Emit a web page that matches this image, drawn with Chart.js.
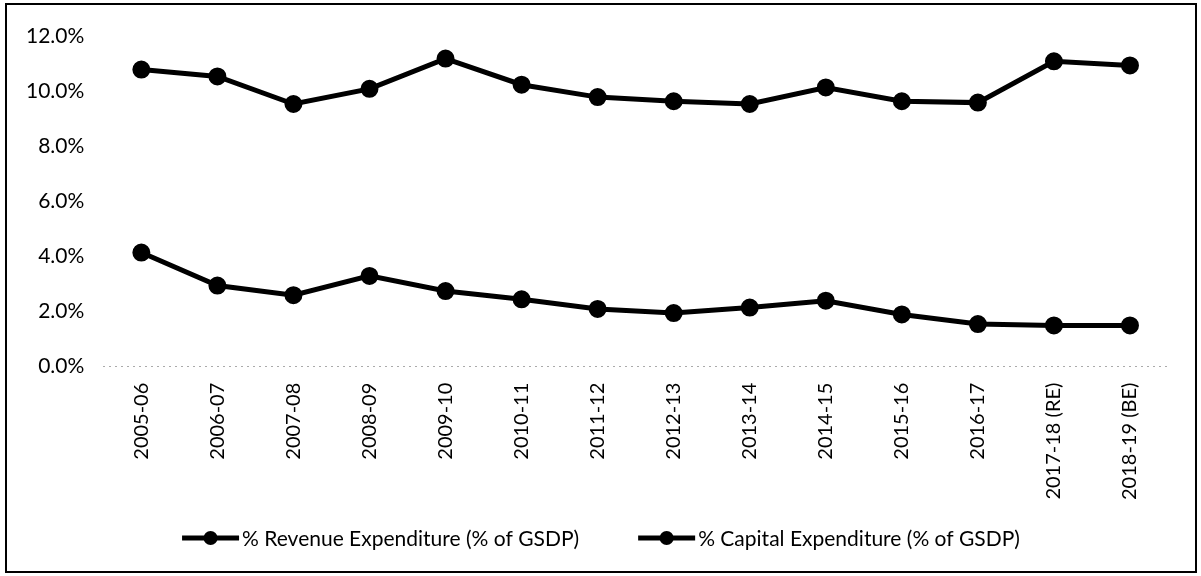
<!DOCTYPE html>
<html>
<head>
<meta charset="utf-8">
<script src="https://cdn.jsdelivr.net/npm/chart.js@4.4.1/dist/chart.umd.min.js"></script>
<style>
    body { margin: 0; background: #fff; }
    #frame {
        position: absolute;
        left: 5px; top: 3px;
        width: 1188px; height: 566px;
        border: 2px solid #000;
    }
</style>
</head>
<body>
<div id="frame"><canvas id="expChart"></canvas></div>
<script>
const years = ["2005-06", "2006-07", "2007-08", "2008-09", "2009-10", "2010-11", "2011-12",
    "2012-13", "2013-14", "2014-15", "2015-16", "2016-17", "2017-18 (RE)", "2018-19 (BE)"];
const revenueExp = [10.8, 10.55, 9.55, 10.1, 11.2, 10.25, 9.8, 9.65, 9.55, 10.15, 9.65, 9.6, 11.1, 10.95];
const capitalExp = [4.15, 2.95, 2.6, 3.3, 2.75, 2.45, 2.1, 1.95, 2.15, 2.4, 1.9, 1.55, 1.5, 1.5];
const yTicks = [0, 2, 4, 6, 8, 10, 12];

const family = "Lato, 'Open Sans', sans-serif";

// Excel style legend: line with a dot, drawn under the plot
const lineLegend = {
    id: "lineLegend",
    afterDraw(chart) {
        const ctx = chart.ctx;
        const markW = 57, gap = 3, itemGap = 59;
        ctx.save();
        ctx.font = "21px " + family;
        ctx.textBaseline = "middle";
        const items = chart.data.datasets.map(ds => ({ text: ds.label, w: ctx.measureText(ds.label).width }));
        const total = items.reduce((s, it) => s + markW + gap + it.w, 0) + itemGap * (items.length - 1);
        let x = (chart.width - total) / 2;
        const y = chart.height - 33;
        items.forEach(it => {
            ctx.strokeStyle = "#000";
            ctx.lineWidth = 5;
            ctx.beginPath();
            ctx.moveTo(x, y);
            ctx.lineTo(x + markW, y);
            ctx.stroke();
            ctx.fillStyle = "#000";
            ctx.beginPath();
            ctx.arc(x + markW / 2, y, 7, 0, Math.PI * 2);
            ctx.fill();
            ctx.fillText(it.text, x + markW + gap, y + 1);
            x += markW + gap + it.w + itemGap;
        });
        ctx.restore();
    }
};

new Chart(document.getElementById("expChart"), {
    type: "line",
    data: {
        labels: years,
        datasets: [
            {
                label: "% Revenue Expenditure (% of GSDP)",
                data: revenueExp,
                borderColor: "#000",
                backgroundColor: "#000",
                borderWidth: 5,
                pointRadius: 6.5,
                pointHoverRadius: 6.5,
                tension: 0
            },
            {
                label: "% Capital Expenditure (% of GSDP)",
                data: capitalExp,
                borderColor: "#000",
                backgroundColor: "#000",
                borderWidth: 5,
                pointRadius: 6.5,
                pointHoverRadius: 6.5,
                tension: 0
            }
        ]
    },
    options: {
        responsive: true,
        maintainAspectRatio: false,
        animation: false,
        layout: { padding: { top: 15, left: 0, right: 27, bottom: 63 } },
        scales: {
            y: {
                min: 0,
                max: 12,
                afterBuildTicks: axis => { axis.ticks = yTicks.map(v => ({ value: v })); },
                ticks: {
                    color: "#000",
                    font: { family: family, size: 21 },
                    padding: 19,
                    callback: v => v.toFixed(1) + "%"
                },
                grid: {
                    drawTicks: false,
                    color: ctx => ctx.tick && ctx.tick.value === 0 ? "#aaa" : "rgba(0,0,0,0)",
                    lineWidth: 1
                },
                border: { display: false, dash: [2, 4] }
            },
            x: {
                offset: true,
                ticks: {
                    color: "#000",
                    font: { family: family, size: 20 },
                    minRotation: 90,
                    maxRotation: 90,
                    padding: 8
                },
                grid: { display: false },
                border: { display: false }
            }
        },
        plugins: {
            tooltip: { enabled: false },
            legend: { display: false }
        }
    },
    plugins: [lineLegend]
});
</script>
</body>
</html>
